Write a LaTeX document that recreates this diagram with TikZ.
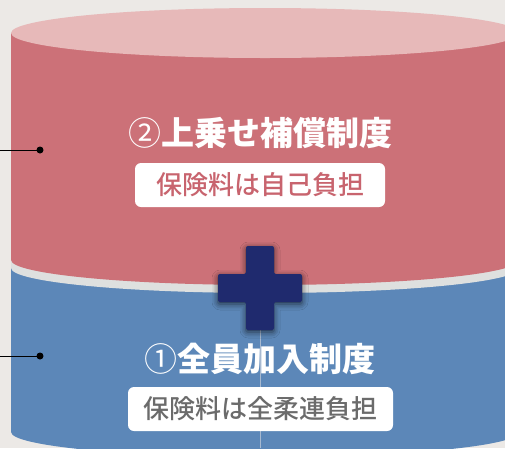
\documentclass[tikz,border=0pt]{standalone}
\usepackage{fontspec}
\usetikzlibrary{shadows.blur}
\newfontfamily\cjk{Noto Sans CJK JP}
\newfontfamily\cjkblack{Noto Sans CJK JP Black}
\newfontfamily\cjkmed{Noto Sans CJK JP Medium}
\definecolor{bgC}{HTML}{ECE9E6}
\definecolor{redC}{HTML}{CC7178}
\definecolor{pinkC}{HTML}{E7B9B9}
\definecolor{blueC}{HTML}{5C87B8}
\definecolor{bandC}{HTML}{DEE0DF}
\definecolor{navyC}{HTML}{1F2A6E}
\definecolor{redT}{HTML}{C8646E}
\definecolor{greyT}{HTML}{6B6B6B}
\definecolor{vlineC}{HTML}{A7B9D0}
\tikzset{
  titletext/.style={inner sep=0pt, text=white, font=\cjkblack\fontsize{33}{33}\selectfont},
  labelbox/.style={fill=white, rounded corners=6pt, inner sep=0pt, minimum height=44pt, font=\cjkmed\fontsize{26}{26}\selectfont},
  dotnode/.style={circle, fill=black, inner sep=0pt, minimum size=7pt},
  leader/.style={draw=black, line width=1pt}
}
\begin{document}
\begin{tikzpicture}[x=1pt,y=-1pt]
\useasboundingbox (0,0) rectangle (505,448);
\fill[bgC] (0,0) rectangle (505,448);
\begin{scope}
\clip (0,0) rectangle (505,448);
% bottom (blue) section
\fill[blueC] (11,260) -- (11,432) arc[start angle=180, end angle=0, x radius=254, y radius=25] -- (519,260) -- cycle;
% separating band
\fill[bandC] (11,255) -- (11,268) arc[start angle=180, end angle=0, x radius=254, y radius=25] -- (519,255) -- cycle;
% top (red) section
\fill[redC] (11,33) -- (11,260) arc[start angle=180, end angle=0, x radius=254, y radius=25] -- (519,33) -- cycle;
\fill[pinkC] (265,33) ellipse[x radius=254, y radius=25];
% thin vertical line
\draw[vlineC, line width=0.8pt] (260,330) -- (260,448);
\end{scope}
% plus sign
\fill[navyC, rounded corners=2pt, blur shadow={shadow blur radius=6pt, shadow xshift=0pt, shadow yshift=-2pt, shadow opacity=65}]
 (246,246) -- (274,246) -- (274,274) -- (302,274) -- (302,302) -- (274,302) -- (274,330) -- (246,330) -- (246,302) -- (218,302) -- (218,274) -- (246,274) -- cycle;
% texts
\node[titletext] (t2) at (260,133) {{\cjk ②}上乗せ補償制度};
\node[labelbox, text=redT, minimum width=250pt] (l2) at (260,185) {保険料は自己負担};
\node[titletext] (t1) at (260,359) {{\cjk ①}全員加入制度};
\node[labelbox, text=greyT, minimum width=265pt] (l1) at (260.5,409) {保険料は全柔連負担};
% leaders
\coordinate (a2) at (0,150);
\node[dotnode] (d2) at (40,150) {};
\draw[leader] (a2) -- (d2.center);
\coordinate (a1) at (0,356);
\node[dotnode] (d1) at (40,356) {};
\draw[leader] (a1) -- (d1.center);
\end{tikzpicture}
\end{document}
